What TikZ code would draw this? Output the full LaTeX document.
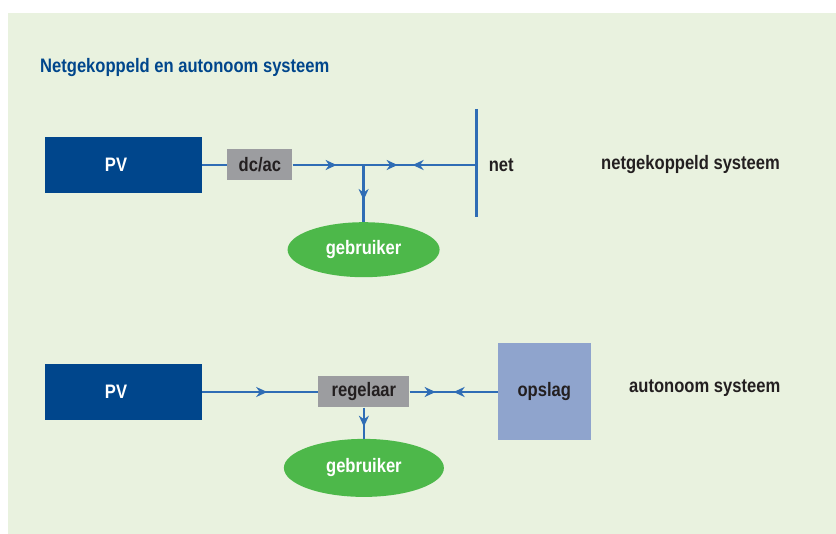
\documentclass[tikz,border=0pt]{standalone}
\usepackage{fontspec}
\setmainfont{Liberation Sans}[FakeStretch=0.85]
\usetikzlibrary{arrows.meta, positioning, shapes.geometric, decorations.markings}

\definecolor{bggreen}{HTML}{E9F2DF}
\definecolor{pvblue}{HTML}{00468C}
\definecolor{wireblue}{HTML}{2F6DB5}
\definecolor{boxgray}{HTML}{9C9DA0}
\definecolor{storeblue}{HTML}{8FA4CD}
\definecolor{usergreen}{HTML}{4DB84A}
\definecolor{inkdark}{HTML}{231F20}

\begin{document}
\begin{tikzpicture}[
    x=1pt, y=-1pt,
    font=\fontsize{19.5}{22}\selectfont\bfseries,
    pvbox/.style={fill=pvblue, text=white, minimum width=157pt, minimum height=56pt, inner sep=0pt},
    conv/.style={fill=boxgray, text=inkdark, minimum height=31pt, inner sep=0pt},
    user/.style={ellipse, fill=usergreen, text=white, minimum width=152pt, minimum height=55pt, inner sep=0pt},
    wire/.style={draw=wireblue, line width=2.6pt},
    arrowat/.style={postaction={decorate}, decoration={markings, mark=at position #1 with {\arrow[wireblue]{Stealth[length=11pt, width=10pt, inset=3.5pt]}}}},
    sidetext/.style={text=inkdark, anchor=west, inner sep=0pt},
]
    % Background and title
    \fill[bggreen] (8,13) rectangle (836,534);
    \useasboundingbox (0,0) rectangle (836,534);
    \node[anchor=base west, inner sep=0pt, text=pvblue] (title) at (40,73) {Netgekoppeld en autonoom systeem};

    % Netgekoppeld systeem
    \node[pvbox] (pv1) at (123.5,165) {PV\hspace*{15pt}};
    \node[conv, minimum width=65pt, right=25pt of pv1] (dcac) {dc/ac};
    \coordinate[right=71pt of dcac.east] (split);
    \coordinate[right=113pt of split] (grid);
    \coordinate[above=56pt of grid] (gridtop);
    \coordinate[below=52pt of grid] (gridbot);
    \node[user, below=57pt of split] (user1) {gebruiker};
    \node[sidetext, right=12pt of grid] (net) {net};
    \node[sidetext] (netsys) at (601,165) {netgekoppeld systeem};

    \draw[wire] (pv1) -- (dcac);
    \draw[wire, arrowat=44pt] (dcac) -- (split);
    \draw[wire, arrowat=34pt] (split) -- (grid);
    \draw[wire, arrowat=64pt] (grid) -- (split);
    \draw[wire] (gridtop) -- (gridbot);
    \draw[wire, arrowat=35pt] (split) -- (user1);

    % Autonoom systeem
    \node[pvbox] (pv2) at (123.5,392) {PV\hspace*{15pt}};
    \node[conv, minimum width=91pt, right=116pt of pv2] (reg) {regelaar};
    \node[fill=storeblue, text=inkdark, minimum width=93pt, minimum height=97pt, right=88pt of reg] (store) {opslag};
    \node[user, minimum width=160pt, minimum height=58pt, below=31pt of reg] (user2) {gebruiker};
    \node[sidetext] (autsys) at (629,388) {autonoom systeem};

    \draw[wire, arrowat=65pt] (pv2) -- (reg);
    \draw[wire, arrowat=26pt] (reg) -- (store);
    \draw[wire, arrowat=44pt] (store) -- (reg);
    \draw[wire, arrowat=19pt] (reg) -- (user2);
\end{tikzpicture}
\end{document}
